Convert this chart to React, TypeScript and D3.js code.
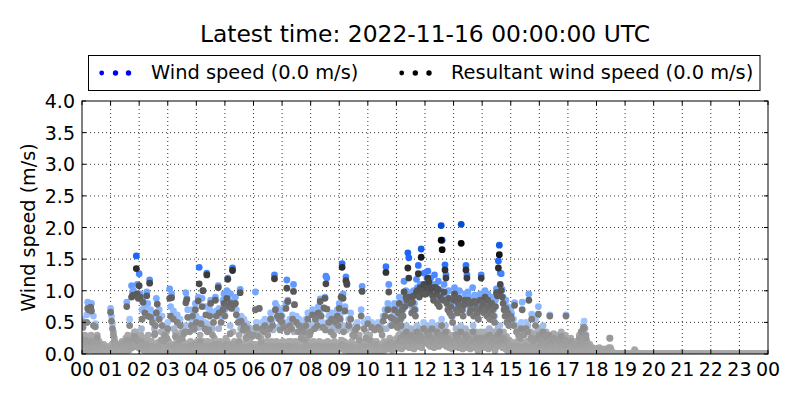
import { useMemo } from 'react';
import * as d3 from 'd3';

const title = 'Latest time: 2022-11-16 00:00:00 UTC';
const windLabel = 'Wind speed (0.0 m/s)';
const resultantLabel = 'Resultant wind speed (0.0 m/s)';
const yLabel = 'Wind speed (m/s)';

const hourLabels = [
  '00', '01', '02', '03', '04', '05', '06', '07', '08', '09', '10', '11',
  '12', '13', '14', '15', '16', '17', '18', '19', '20', '21', '22', '23', '00',
];
const speedTicks = [0, 0.5, 1, 1.5, 2, 2.5, 3, 3.5, 4];
const samplesPerHour = 30; // per table: one reading every 2 minutes

// even-minute readings (:00, :02, ...), one row per hour
const windSpeedEven: number[][] = [
  [0.55, 0.5, 0.2, 0.3, 0.12, 0.62, 0.82, 0.78, 0.15, 0.76, 0.8, 0.25, 0.6, 0.1, 0.48, 0.2, 0.3, 0.08, 0.2, 0.15, 0.12, 0.1, 0.08, 0.15, 0.1, 0.05, 0.08, 0.12, 0.06, 0.04],
  [0.72, 0.6, 0.48, 0.35, 0.25, 0.18, 0.12, 0.1, 0.15, 0.08, 0.05, 0.1, 0.2, 0.12, 0.08, 0.18, 0.25, 0.82, 0.3, 0.2, 0.55, 0.15, 1.08, 0.98, 1.0, 0.35, 0.2, 1.55, 1.1, 0.95],
  [1.27, 0.95, 0.3, 0.7, 0.9, 0.2, 0.75, 0.25, 0.98, 0.8, 0.15, 1.17, 0.7, 0.2, 0.62, 0.12, 0.4, 0.58, 0.88, 0.66, 0.18, 0.7, 0.1, 0.35, 0.6, 0.15, 0.3, 0.42, 0.08, 0.35],
  [0.5, 0.2, 1.03, 0.75, 0.95, 0.15, 0.68, 0.1, 0.35, 0.25, 0.62, 0.12, 0.3, 0.55, 0.08, 0.35, 0.2, 0.42, 0.15, 0.97, 0.88, 0.7, 0.12, 0.45, 0.2, 0.55, 0.7, 0.15, 0.5, 0.8],
  [0.6, 0.2, 0.9, 1.37, 0.3, 0.55, 0.88, 1.0, 0.15, 0.5, 0.75, 1.28, 0.2, 0.45, 0.7, 0.85, 0.12, 0.4, 0.62, 0.25, 0.9, 0.68, 0.15, 1.08, 0.72, 0.2, 0.6, 0.1, 0.85, 0.95],
  [0.7, 0.25, 1.0, 1.2, 0.85, 0.15, 0.95, 0.8, 1.36, 0.84, 0.2, 0.9, 0.7, 0.12, 0.6, 0.3, 1.02, 0.6, 0.15, 0.45, 0.55, 0.1, 0.35, 0.48, 0.08, 0.42, 0.2, 0.38, 0.1, 0.35],
  [0.4, 0.15, 0.98, 0.5, 0.1, 0.35, 0.72, 0.12, 0.25, 0.5, 0.08, 0.45, 0.55, 0.15, 0.2, 0.4, 0.1, 0.5, 0.65, 0.2, 0.55, 0.12, 1.25, 0.8, 0.2, 0.74, 0.15, 0.62, 0.45, 0.7],
  [0.6, 0.2, 0.5, 0.15, 0.8, 1.17, 0.85, 0.2, 0.55, 0.12, 0.5, 0.62, 1.1, 0.78, 0.2, 0.6, 0.1, 0.45, 0.55, 0.15, 0.35, 0.5, 0.1, 0.45, 0.3, 0.55, 0.15, 0.65, 0.2, 0.4],
  [0.45, 0.15, 0.7, 0.2, 0.5, 0.65, 0.1, 0.55, 0.75, 0.2, 0.87, 0.7, 0.15, 0.5, 0.72, 0.9, 1.23, 1.2, 0.2, 0.6, 0.12, 0.45, 0.65, 0.15, 0.4, 0.2, 0.6, 0.1, 0.7, 0.55],
  [0.8, 0.62, 0.9, 1.43, 0.95, 0.2, 0.75, 1.22, 1.12, 0.15, 0.55, 0.12, 0.65, 0.2, 0.4, 0.1, 0.35, 0.45, 0.15, 0.5, 0.1, 0.3, 0.2, 0.7, 1.07, 0.15, 0.5, 0.1, 0.35, 0.2],
  [0.55, 0.15, 0.3, 0.1, 0.5, 0.2, 0.08, 0.45, 0.12, 0.2, 0.05, 0.5, 0.15, 0.45, 0.1, 0.4, 0.6, 0.2, 0.7, 1.38, 0.15, 0.8, 1.1, 0.25, 0.72, 0.55, 0.15, 0.65, 0.8, 0.2],
  [0.6, 0.5, 0.75, 0.9, 0.65, 0.55, 0.8, 0.7, 1.15, 0.85, 1.0, 0.95, 1.6, 1.52, 0.97, 0.85, 0.75, 0.9, 1.0, 0.8, 0.7, 1.18, 1.05, 1.4, 0.95, 1.1, 1.66, 1.05, 1.0, 1.28],
  [1.1, 1.0, 1.2, 1.31, 1.15, 1.05, 1.2, 1.1, 1.0, 0.95, 1.25, 1.1, 1.05, 0.9, 1.15, 0.85, 1.0, 2.03, 1.8, 0.95, 1.1, 1.41, 1.25, 0.9, 0.8, 1.0, 0.75, 0.85, 0.7, 0.6],
  [0.9, 1.05, 0.95, 0.8, 0.75, 0.9, 1.0, 0.85, 2.05, 0.8, 0.7, 0.85, 0.95, 1.4, 1.25, 0.98, 0.9, 0.75, 0.8, 0.85, 1.05, 0.7, 0.93, 0.9, 0.8, 0.75, 0.65, 0.8, 0.95, 1.25],
  [0.85, 0.9, 0.75, 1.0, 0.8, 0.7, 0.95, 0.85, 0.65, 0.75, 0.9, 0.8, 0.7, 0.6, 0.85, 1.03, 0.95, 1.47, 1.72, 1.28, 1.27, 1.02, 0.9, 0.8, 0.7, 0.85, 0.6, 0.75, 0.55, 0.65],
  [0.7, 0.64, 0.15, 0.55, 0.81, 0.12, 0.45, 0.2, 0.4, 0.1, 0.35, 0.5, 0.82, 0.15, 0.4, 0.08, 0.5, 0.2, 0.45, 0.95, 0.1, 0.35, 0.63, 0.15, 0.3, 0.08, 0.55, 0.2, 0.35, 0.75],
  [0.4, 0.35, 0.3, 0.25, 0.45, 0.3, 0.2, 0.35, 0.15, 0.25, 0.3, 0.62, 0.2, 0.3, 0.15, 0.32, 0.25, 0.1, 0.2, 0.15, 0.3, 0.12, 0.25, 0.35, 0.18, 0.1, 0.2, 0.3, 0.62, 0.25],
  [0.2, 0.15, 0.1, 0.25, 0.12, 0.08, 0.15, 0.2, 0.1, 0.05, 0.12, 0.18, 0.3, 0.22, 0.35, 0.15, 0.45, 0.52, 0.4, 0.3, 0.2, 0.12, 0.1, 0.15, 0.08, 0.05, 0.1, 0.06, 0.04, 0.08],
  [0.05, 0.08, 0.03, 0.1, 0.05, 0.02, 0.06, 0.04, 0.08, 0.03, 0.02, 0.05, 0.03, 0.1, 0.25, 0.08, 0.04, 0.02, 0, 0.01, 0, 0, 0, 0, 0, 0, 0, 0, 0, 0],
  [0, 0, 0, 0, 0, 0, 0, 0, 0, 0, 0.07, 0.04, 0, 0, 0, 0, 0, 0, 0, 0, 0, 0, 0, 0, 0, 0, 0, 0, 0, 0],
  [0, 0, 0, 0, 0, 0, 0, 0, 0, 0, 0.01, 0, 0, 0, 0, 0, 0, 0, 0, 0, 0, 0, 0, 0, 0, 0, 0, 0, 0, 0],
  [0.02, 0, 0, 0, 0, 0, 0, 0, 0, 0, 0, 0, 0, 0, 0, 0, 0, 0, 0, 0, 0, 0, 0, 0, 0, 0, 0, 0, 0, 0],
  [0, 0, 0, 0, 0, 0, 0, 0, 0, 0, 0, 0, 0, 0, 0, 0, 0, 0, 0, 0, 0, 0, 0, 0, 0, 0, 0, 0, 0, 0],
  [0, 0, 0, 0, 0, 0, 0, 0, 0, 0, 0, 0, 0, 0, 0, 0, 0, 0, 0, 0, 0, 0, 0, 0, 0, 0, 0, 0, 0, 0],
];

// odd-minute readings (:01, :03, ...), hours 00-18
const windSpeedOdd: number[][] = [
  [0.15, 0.08, 0.1, 0.05, 0.12, 0.2, 0.25, 0.1, 0.15, 0.3, 0.12, 0.08, 0.15, 0.1, 0.05, 0.12, 0.06, 0.04, 0.08, 0.03, 0.05, 0.02, 0.03, 0.02, 0.04, 0.01, 0.03, 0.05, 0.02, 0.03],
  [0.1, 0.15, 0.08, 0.05, 0.03, 0.04, 0.02, 0.01, 0.03, 0.02, 0.01, 0.02, 0.05, 0.03, 0.02, 0.04, 0.08, 0.15, 0.12, 0.1, 0.2, 0.25, 0.15, 0.3, 0.22, 0.18, 0.35, 0.2, 0.3, 0.15],
  [0.2, 0.12, 0.4, 0.15, 0.1, 0.22, 0.08, 0.18, 0.12, 0.3, 0.15, 0.1, 0.2, 0.08, 0.12, 0.05, 0.45, 0.1, 0.06, 0.18, 0.03, 0.1, 0.08, 0.04, 0.35, 0.06, 0.1, 0.03, 0.08, 0.05],
  [0.08, 0.15, 0.05, 0.12, 0.1, 0.03, 0.4, 0.08, 0.05, 0.1, 0.15, 0.04, 0.08, 0.12, 0.05, 0.1, 0.03, 0.15, 0.45, 0.08, 0.12, 0.05, 0.18, 0.1, 0.06, 0.15, 0.08, 0.38, 0.12, 0.1],
  [0.15, 0.1, 0.42, 0.08, 0.18, 0.12, 0.05, 0.2, 0.1, 0.15, 0.08, 0.48, 0.12, 0.05, 0.18, 0.1, 0.15, 0.08, 0.2, 0.12, 0.05, 0.15, 0.1, 0.4, 0.08, 0.18, 0.12, 0.05, 0.15, 0.1],
  [0.18, 0.12, 0.2, 0.1, 0.15, 0.45, 0.08, 0.15, 0.35, 0.1, 0.18, 0.12, 0.05, 0.15, 0.1, 0.08, 0.4, 0.05, 0.12, 0.08, 0.15, 0.03, 0.1, 0.06, 0.12, 0.04, 0.08, 0.15, 0.05, 0.1],
  [0.05, 0.1, 0.15, 0.08, 0.03, 0.12, 0.05, 0.1, 0.04, 0.08, 0.15, 0.03, 0.1, 0.05, 0.12, 0.08, 0.04, 0.15, 0.1, 0.05, 0.38, 0.08, 0.42, 0.12, 0.15, 0.1, 0.05, 0.18, 0.08, 0.12],
  [0.15, 0.1, 0.05, 0.18, 0.12, 0.45, 0.15, 0.08, 0.1, 0.2, 0.05, 0.12, 0.35, 0.1, 0.15, 0.08, 0.05, 0.12, 0.1, 0.03, 0.08, 0.15, 0.05, 0.1, 0.04, 0.12, 0.4, 0.08, 0.1, 0.05],
  [0.1, 0.05, 0.15, 0.12, 0.08, 0.18, 0.1, 0.05, 0.42, 0.12, 0.15, 0.08, 0.1, 0.18, 0.05, 0.45, 0.15, 0.1, 0.12, 0.08, 0.15, 0.05, 0.1, 0.18, 0.08, 0.12, 0.05, 0.15, 0.1, 0.38],
  [0.18, 0.12, 0.22, 0.15, 0.45, 0.1, 0.18, 0.38, 0.12, 0.08, 0.15, 0.1, 0.05, 0.12, 0.08, 0.15, 0.05, 0.1, 0.12, 0.08, 0.03, 0.1, 0.15, 0.08, 0.18, 0.1, 0.05, 0.12, 0.08, 0.1],
  [0.08, 0.1, 0.05, 0.03, 0.1, 0.08, 0.04, 0.12, 0.05, 0.03, 0.08, 0.15, 0.05, 0.1, 0.12, 0.08, 0.15, 0.1, 0.18, 0.4, 0.12, 0.2, 0.15, 0.45, 0.18, 0.1, 0.22, 0.15, 0.2, 0.12],
  [0.25, 0.15, 0.3, 0.2, 0.35, 0.12, 0.28, 0.4, 0.2, 0.3, 0.45, 0.22, 0.35, 0.15, 0.28, 0.4, 0.2, 0.3, 0.12, 0.35, 0.22, 0.45, 0.28, 0.2, 0.4, 0.3, 0.15, 0.35, 0.5, 0.28],
  [0.35, 0.28, 0.45, 0.22, 0.4, 0.2, 0.3, 0.5, 0.28, 0.15, 0.35, 0.22, 0.45, 0.3, 0.2, 0.4, 0.28, 0.55, 0.35, 0.22, 0.3, 0.45, 0.2, 0.35, 0.28, 0.15, 0.3, 0.22, 0.12, 0.28],
  [0.3, 0.22, 0.4, 0.2, 0.35, 0.15, 0.28, 0.45, 0.22, 0.12, 0.3, 0.2, 0.4, 0.28, 0.15, 0.35, 0.22, 0.12, 0.3, 0.2, 0.45, 0.28, 0.15, 0.35, 0.22, 0.08, 0.28, 0.2, 0.35, 0.22],
  [0.28, 0.2, 0.35, 0.15, 0.3, 0.22, 0.12, 0.4, 0.2, 0.28, 0.15, 0.35, 0.22, 0.08, 0.3, 0.2, 0.4, 0.28, 0.45, 0.22, 0.3, 0.15, 0.35, 0.2, 0.12, 0.28, 0.08, 0.22, 0.15, 0.2],
  [0.15, 0.1, 0.18, 0.08, 0.12, 0.05, 0.15, 0.1, 0.03, 0.12, 0.08, 0.15, 0.05, 0.1, 0.18, 0.08, 0.03, 0.12, 0.1, 0.05, 0.15, 0.08, 0.1, 0.04, 0.12, 0.06, 0.15, 0.08, 0.05, 0.1],
  [0.1, 0.2, 0.05, 0.15, 0.08, 0.25, 0.12, 0.05, 0.2, 0.1, 0.03, 0.15, 0.08, 0.2, 0.05, 0.12, 0.1, 0.04, 0.15, 0.06, 0.1, 0.02, 0.08, 0.15, 0.05, 0.03, 0.1, 0.06, 0.2, 0.08],
  [0.05, 0.1, 0.03, 0.08, 0.04, 0.02, 0.06, 0.1, 0.03, 0.02, 0.05, 0.08, 0.12, 0.06, 0.15, 0.08, 0.2, 0.1, 0.15, 0.08, 0.05, 0.03, 0.06, 0.02, 0.04, 0.01, 0.03, 0.02, 0.01, 0.02],
  [0.02, 0.04, 0.01, 0.05, 0.02, 0.01, 0.03, 0.02, 0.04, 0.01, 0.01, 0.02, 0.01, 0.05, 0.1, 0.03, 0.02, 0, 0, 0, 0, 0, 0, 0, 0, 0, 0, 0, 0, 0],
];

const resultantSpeedEven: number[][] = [
  [0.5, 0.42, 0.12, 0.22, 0.08, 0.5, 0.72, 0.7, 0.1, 0.74, 0.68, 0.18, 0.45, 0.05, 0.43, 0.12, 0.26, 0.05, 0.15, 0.1, 0.08, 0.06, 0.05, 0.1, 0.07, 0.03, 0.05, 0.08, 0.04, 0.02],
  [0.66, 0.52, 0.4, 0.3, 0.2, 0.15, 0.1, 0.06, 0.12, 0.05, 0.03, 0.06, 0.16, 0.1, 0.05, 0.14, 0.2, 0.75, 0.22, 0.12, 0.45, 0.1, 0.9, 0.92, 0.93, 0.28, 0.12, 1.35, 0.95, 0.88],
  [1.08, 0.9, 0.2, 0.55, 0.82, 0.12, 0.65, 0.15, 0.92, 0.6, 0.08, 1.12, 0.58, 0.12, 0.5, 0.06, 0.3, 0.45, 0.65, 0.79, 0.1, 0.55, 0.05, 0.22, 0.45, 0.08, 0.2, 0.3, 0.04, 0.25],
  [0.4, 0.12, 0.88, 0.6, 0.89, 0.08, 0.55, 0.05, 0.28, 0.15, 0.5, 0.06, 0.22, 0.45, 0.04, 0.25, 0.12, 0.32, 0.08, 0.81, 0.86, 0.58, 0.06, 0.35, 0.12, 0.45, 0.6, 0.08, 0.4, 0.7],
  [0.5, 0.12, 0.84, 1.11, 0.2, 0.48, 0.75, 1.0, 0.08, 0.4, 0.62, 1.25, 0.12, 0.38, 0.6, 0.8, 0.06, 0.3, 0.5, 0.15, 0.85, 0.6, 0.08, 1.05, 0.65, 0.12, 0.5, 0.05, 0.7, 0.8],
  [0.6, 0.15, 0.88, 1.18, 0.75, 0.08, 0.8, 0.72, 1.32, 0.78, 0.12, 0.8, 0.62, 0.06, 0.5, 0.2, 0.97, 0.52, 0.08, 0.38, 0.45, 0.05, 0.25, 0.4, 0.04, 0.32, 0.12, 0.3, 0.05, 0.28],
  [0.3, 0.08, 0.7, 0.42, 0.05, 0.28, 0.72, 0.06, 0.18, 0.4, 0.04, 0.35, 0.45, 0.08, 0.12, 0.3, 0.05, 0.4, 0.55, 0.12, 0.45, 0.06, 1.19, 0.7, 0.12, 0.6, 0.08, 0.55, 0.38, 0.6],
  [0.5, 0.12, 0.42, 0.08, 0.72, 1.04, 0.83, 0.12, 0.45, 0.06, 0.4, 0.55, 0.99, 0.78, 0.12, 0.5, 0.05, 0.35, 0.45, 0.08, 0.25, 0.4, 0.05, 0.35, 0.22, 0.45, 0.08, 0.55, 0.12, 0.3],
  [0.35, 0.08, 0.62, 0.12, 0.4, 0.55, 0.05, 0.45, 0.65, 0.12, 0.83, 0.6, 0.08, 0.42, 0.73, 0.88, 1.11, 0.71, 0.12, 0.5, 0.06, 0.35, 0.55, 0.08, 0.3, 0.12, 0.5, 0.05, 0.6, 0.45],
  [0.72, 0.55, 0.9, 1.37, 0.88, 0.12, 0.68, 1.16, 1.1, 0.08, 0.45, 0.06, 0.55, 0.12, 0.3, 0.05, 0.28, 0.38, 0.08, 0.42, 0.05, 0.22, 0.12, 0.6, 0.99, 0.08, 0.4, 0.05, 0.25, 0.12],
  [0.48, 0.08, 0.22, 0.05, 0.42, 0.12, 0.04, 0.38, 0.06, 0.15, 0.02, 0.42, 0.08, 0.38, 0.05, 0.3, 0.52, 0.12, 0.6, 1.29, 0.08, 0.7, 0.98, 0.15, 0.58, 0.45, 0.08, 0.55, 0.7, 0.12],
  [0.5, 0.42, 0.65, 0.8, 0.55, 0.45, 0.7, 0.6, 0.98, 0.75, 0.9, 0.85, 1.36, 1.2, 0.9, 0.8, 0.65, 0.82, 0.92, 0.7, 0.6, 0.98, 1.0, 1.27, 0.9, 1.05, 1.53, 1.0, 0.95, 1.1],
  [1.0, 0.95, 1.05, 1.2, 1.14, 0.98, 1.03, 1.05, 0.92, 0.85, 1.05, 1.05, 0.95, 0.8, 1.02, 0.75, 0.9, 1.8, 1.65, 0.85, 0.98, 1.33, 1.2, 0.8, 0.7, 0.88, 0.65, 0.75, 0.6, 0.5],
  [0.85, 0.95, 0.88, 0.7, 0.65, 0.8, 0.88, 0.75, 1.75, 0.7, 0.6, 0.78, 0.85, 1.33, 1.2, 0.85, 0.8, 0.65, 0.7, 0.8, 0.82, 0.6, 0.83, 0.8, 0.7, 0.65, 0.55, 0.7, 0.85, 1.2],
  [0.75, 0.8, 0.65, 0.9, 0.7, 0.6, 0.85, 0.75, 0.55, 0.65, 0.8, 0.7, 0.6, 0.5, 0.75, 0.97, 0.92, 1.36, 1.57, 1.1, 1.0, 0.9, 0.8, 0.7, 0.6, 0.72, 0.5, 0.65, 0.45, 0.55],
  [0.6, 0.55, 0.08, 0.45, 0.77, 0.06, 0.35, 0.12, 0.3, 0.05, 0.25, 0.4, 0.7, 0.08, 0.3, 0.04, 0.4, 0.12, 0.35, 0.85, 0.05, 0.25, 0.55, 0.08, 0.2, 0.04, 0.45, 0.12, 0.25, 0.63],
  [0.3, 0.28, 0.22, 0.18, 0.35, 0.22, 0.12, 0.28, 0.1, 0.18, 0.3, 0.6, 0.14, 0.22, 0.1, 0.25, 0.18, 0.06, 0.14, 0.1, 0.22, 0.08, 0.18, 0.28, 0.12, 0.05, 0.14, 0.22, 0.6, 0.18],
  [0.15, 0.1, 0.06, 0.2, 0.08, 0.05, 0.1, 0.15, 0.06, 0.03, 0.08, 0.12, 0.25, 0.18, 0.35, 0.1, 0.4, 0.42, 0.3, 0.25, 0.15, 0.08, 0.06, 0.1, 0.05, 0.02, 0.06, 0.04, 0.02, 0.05],
  [0.03, 0.05, 0.02, 0.06, 0.03, 0.01, 0.04, 0.02, 0.05, 0.02, 0.01, 0.03, 0.02, 0.08, 0.25, 0.06, 0.02, 0.01, 0, 0, 0, 0, 0, 0, 0, 0, 0, 0, 0, 0],
  [0, 0, 0, 0, 0, 0, 0, 0, 0, 0, 0.05, 0, 0, 0, 0, 0, 0, 0, 0, 0, 0, 0, 0, 0, 0, 0, 0, 0, 0, 0],
  [0, 0, 0, 0, 0, 0, 0, 0, 0, 0, 0, 0, 0, 0, 0, 0, 0, 0, 0, 0, 0, 0, 0, 0, 0, 0, 0, 0, 0, 0],
  [0.01, 0, 0, 0, 0, 0, 0, 0, 0, 0, 0, 0, 0, 0, 0, 0, 0, 0, 0, 0, 0, 0, 0, 0, 0, 0, 0, 0, 0, 0],
  [0, 0, 0, 0, 0, 0, 0, 0, 0, 0, 0, 0, 0, 0, 0, 0, 0, 0, 0, 0, 0, 0, 0, 0, 0, 0, 0, 0, 0, 0],
  [0, 0, 0, 0, 0, 0, 0, 0, 0, 0, 0, 0, 0, 0, 0, 0, 0, 0, 0, 0, 0, 0, 0, 0, 0, 0, 0, 0, 0, 0],
];

const resultantSpeedOdd: number[][] = [
  [0.1, 0.05, 0.06, 0.03, 0.08, 0.12, 0.15, 0.06, 0.1, 0.2, 0.08, 0.05, 0.1, 0.06, 0.03, 0.08, 0.04, 0.02, 0.05, 0.02, 0.03, 0.01, 0.02, 0.01, 0.02, 0.01, 0.02, 0.03, 0.01, 0.02],
  [0.06, 0.1, 0.05, 0.03, 0.02, 0.02, 0.01, 0.01, 0.02, 0.01, 0.01, 0.01, 0.03, 0.02, 0.01, 0.02, 0.05, 0.1, 0.08, 0.06, 0.12, 0.15, 0.1, 0.2, 0.15, 0.12, 0.25, 0.12, 0.2, 0.1],
  [0.12, 0.08, 0.15, 0.1, 0.06, 0.15, 0.05, 0.12, 0.08, 0.03, 0.1, 0.06, 0.12, 0.05, 0.08, 0.03, 0.32, 0.06, 0.04, 0.12, 0.02, 0.06, 0.05, 0.02, 0.08, 0.04, 0.06, 0.02, 0.05, 0.03],
  [0.05, 0.1, 0.03, 0.08, 0.06, 0.02, 0.12, 0.05, 0.03, 0.06, 0.1, 0.02, 0.05, 0.08, 0.03, 0.06, 0.02, 0.1, 0.35, 0.05, 0.08, 0.03, 0.12, 0.06, 0.04, 0.1, 0.05, 0.15, 0.08, 0.06],
  [0.1, 0.06, 0.15, 0.05, 0.12, 0.08, 0.03, 0.12, 0.06, 0.1, 0.05, 0.35, 0.08, 0.03, 0.12, 0.06, 0.1, 0.05, 0.12, 0.08, 0.03, 0.1, 0.06, 0.15, 0.05, 0.12, 0.08, 0.03, 0.1, 0.06],
  [0.12, 0.08, 0.12, 0.06, 0.1, 0.32, 0.05, 0.1, 0.15, 0.06, 0.12, 0.08, 0.03, 0.1, 0.06, 0.05, 0.12, 0.03, 0.08, 0.05, 0.1, 0.02, 0.06, 0.04, 0.08, 0.02, 0.05, 0.1, 0.03, 0.06],
  [0.03, 0.06, 0.1, 0.05, 0.02, 0.08, 0.03, 0.06, 0.02, 0.05, 0.1, 0.02, 0.06, 0.03, 0.08, 0.05, 0.02, 0.1, 0.06, 0.03, 0.12, 0.05, 0.12, 0.08, 0.1, 0.06, 0.03, 0.12, 0.05, 0.08],
  [0.1, 0.06, 0.03, 0.12, 0.08, 0.35, 0.1, 0.05, 0.06, 0.12, 0.03, 0.08, 0.12, 0.06, 0.1, 0.05, 0.03, 0.08, 0.06, 0.02, 0.05, 0.1, 0.03, 0.06, 0.02, 0.08, 0.12, 0.05, 0.06, 0.03],
  [0.06, 0.03, 0.1, 0.08, 0.05, 0.12, 0.06, 0.03, 0.12, 0.08, 0.1, 0.05, 0.06, 0.12, 0.03, 0.38, 0.1, 0.06, 0.08, 0.05, 0.1, 0.03, 0.06, 0.12, 0.05, 0.08, 0.03, 0.1, 0.06, 0.12],
  [0.12, 0.08, 0.15, 0.1, 0.35, 0.06, 0.12, 0.12, 0.08, 0.05, 0.1, 0.06, 0.03, 0.08, 0.05, 0.1, 0.03, 0.06, 0.08, 0.05, 0.02, 0.06, 0.1, 0.05, 0.12, 0.06, 0.03, 0.08, 0.05, 0.06],
  [0.05, 0.06, 0.03, 0.02, 0.06, 0.05, 0.02, 0.08, 0.03, 0.02, 0.05, 0.1, 0.03, 0.06, 0.08, 0.05, 0.1, 0.06, 0.12, 0.15, 0.08, 0.12, 0.1, 0.18, 0.12, 0.06, 0.15, 0.1, 0.12, 0.08],
  [0.15, 0.1, 0.2, 0.12, 0.25, 0.08, 0.2, 0.3, 0.12, 0.2, 0.35, 0.15, 0.25, 0.1, 0.2, 0.3, 0.12, 0.2, 0.08, 0.25, 0.15, 0.35, 0.2, 0.12, 0.3, 0.2, 0.1, 0.25, 0.4, 0.2],
  [0.25, 0.2, 0.35, 0.15, 0.3, 0.12, 0.2, 0.4, 0.2, 0.1, 0.25, 0.15, 0.35, 0.2, 0.12, 0.3, 0.2, 0.45, 0.25, 0.15, 0.2, 0.35, 0.12, 0.25, 0.2, 0.1, 0.2, 0.15, 0.08, 0.2],
  [0.2, 0.15, 0.3, 0.12, 0.25, 0.1, 0.2, 0.35, 0.15, 0.08, 0.2, 0.12, 0.3, 0.2, 0.1, 0.25, 0.15, 0.08, 0.2, 0.12, 0.35, 0.2, 0.1, 0.25, 0.15, 0.05, 0.2, 0.12, 0.25, 0.15],
  [0.2, 0.12, 0.25, 0.1, 0.2, 0.15, 0.08, 0.3, 0.12, 0.2, 0.1, 0.25, 0.15, 0.05, 0.2, 0.12, 0.3, 0.2, 0.35, 0.15, 0.2, 0.1, 0.25, 0.12, 0.08, 0.2, 0.05, 0.15, 0.1, 0.12],
  [0.1, 0.06, 0.12, 0.05, 0.08, 0.03, 0.1, 0.06, 0.02, 0.08, 0.05, 0.1, 0.03, 0.06, 0.12, 0.05, 0.02, 0.08, 0.06, 0.03, 0.1, 0.05, 0.06, 0.02, 0.08, 0.04, 0.1, 0.05, 0.03, 0.06],
  [0.05, 0.12, 0.02, 0.08, 0.04, 0.15, 0.06, 0.02, 0.12, 0.05, 0.01, 0.08, 0.04, 0.12, 0.02, 0.06, 0.05, 0.02, 0.08, 0.03, 0.05, 0.01, 0.04, 0.08, 0.02, 0.01, 0.05, 0.03, 0.12, 0.04],
  [0.02, 0.05, 0.01, 0.04, 0.02, 0.01, 0.03, 0.05, 0.01, 0.01, 0.02, 0.04, 0.06, 0.03, 0.08, 0.04, 0.12, 0.05, 0.08, 0.04, 0.02, 0.01, 0.03, 0.01, 0.02, 0, 0.01, 0.01, 0, 0.01],
  [0.01, 0.02, 0, 0.03, 0.01, 0, 0.02, 0.01, 0.02, 0, 0, 0.01, 0, 0.03, 0.06, 0.02, 0.01, 0, 0, 0, 0, 0, 0, 0, 0, 0, 0, 0, 0, 0],
];

const font = 'DejaVu Sans, Verdana, sans-serif';
const margin = { top: 101, right: 32, bottom: 46, left: 82 };
const width = 800;
const height = 400;
const pointRadius = 3.4;

interface Point {
  hour: number;
  speed: number;
}

// offset is in minutes past the hour of the first reading of a table
const toPoints = (rows: number[][], offset: number): Point[] =>
  rows.flatMap((row, h) =>
    row.map((speed, i) => ({ hour: h + (i * 2 + offset) / (samplesPerHour * 2), speed })),
  );

const App = () => {
  const innerW = width - margin.left - margin.right;
  const innerH = height - margin.top - margin.bottom;

  const x = d3.scaleLinear().domain([0, 24]).range([0, innerW]);
  const y = d3.scaleLinear().domain([0, 4]).range([innerH, 0]);

  // colour darkens / saturates with speed; calm readings stay grey
  const windColor = d3
    .scaleLinear<string>()
    .domain([0, 0.32, 0.5, 1.0, 1.5, 2.1])
    .range(['#a8a8a8', '#a8a8a8', '#a4c6ff', '#70a4ff', '#2068ff', '#0048d0'])
    .clamp(true);
  const resultantColor = d3
    .scaleLinear<string>()
    .domain([0, 0.3, 1.0, 1.75])
    .range(['#a8a8a8', '#969696', '#555555', '#000000'])
    .clamp(true);

  const windPoints = useMemo(
    () => [...toPoints(windSpeedEven, 0), ...toPoints(windSpeedOdd, 1)].sort((a, b) => a.hour - b.hour),
    [],
  );
  const resultantPoints = useMemo(
    () => [...toPoints(resultantSpeedEven, 0), ...toPoints(resultantSpeedOdd, 1)].sort((a, b) => a.hour - b.hour),
    [],
  );

  const hourTicks = hourLabels.map((_, i) => i);

  return (
    <svg
      width={width}
      height={height}
      style={{ position: 'absolute', left: 0, top: 0, background: '#fff' }}
      fontFamily={font}
    >
      <text x={margin.left + innerW / 2} y={42} textAnchor="middle" fontSize={23.4}>
        {title}
      </text>

      {/* legend */}
      <g>
        <rect x={88.5} y={55.5} width={671.5} height={35} fill="#fff" stroke="#000" strokeWidth={1} />
        {[101.7, 115.5, 128.5].map((cx, i) => (
          <circle key={`lw${i}`} cx={cx} cy={73} r={i === 0 ? 2.4 : 2.7} fill="#0000ff" />
        ))}
        <text x={151} y={79} fontSize={19.4}>{windLabel}</text>
        {[401.7, 415.3, 429].map((cx, i) => (
          <circle key={`lr${i}`} cx={cx} cy={73} r={i === 0 ? 2.4 : 2.7} fill="#000" />
        ))}
        <text x={451} y={79} fontSize={19.4}>{resultantLabel}</text>
      </g>

      <defs>
        <clipPath id="plot-clip">
          <rect x={0} y={0} width={innerW} height={innerH} />
        </clipPath>
      </defs>

      <g transform={`translate(${margin.left},${margin.top})`}>
        {/* grid */}
        {hourTicks.slice(1, -1).map(h => (
          <line key={`gx${h}`} x1={x(h)} x2={x(h)} y1={0} y2={innerH}
            stroke="#000" strokeWidth={0.8} strokeDasharray="1,3" />
        ))}
        {speedTicks.slice(1, -1).map(v => (
          <line key={`gy${v}`} x1={0} x2={innerW} y1={y(v)} y2={y(v)}
            stroke="#000" strokeWidth={0.8} strokeDasharray="1,3" />
        ))}

        <g clipPath="url(#plot-clip)">
          {windPoints.map((p, i) => (
            <circle key={`w${i}`} cx={x(p.hour)} cy={y(p.speed)} r={pointRadius} fill={windColor(p.speed)} />
          ))}
          {resultantPoints.map((p, i) => (
            <circle key={`r${i}`} cx={x(p.hour)} cy={y(p.speed)} r={pointRadius} fill={resultantColor(p.speed)} />
          ))}
        </g>

        {/* ticks pointing inward on all sides */}
        {hourTicks.map(h => (
          <g key={`tx${h}`}>
            <line x1={x(h)} x2={x(h)} y1={innerH} y2={innerH - 4} stroke="#000" />
            <line x1={x(h)} x2={x(h)} y1={0} y2={4} stroke="#000" />
            <text x={x(h)} y={innerH + 22} textAnchor="middle" fontSize={19}>{hourLabels[h]}</text>
          </g>
        ))}
        {speedTicks.map(v => (
          <g key={`ty${v}`}>
            <line x1={0} x2={4} y1={y(v)} y2={y(v)} stroke="#000" />
            <line x1={innerW} x2={innerW - 4} y1={y(v)} y2={y(v)} stroke="#000" />
            <text x={-7} y={y(v) + 7} textAnchor="end" fontSize={19}>{v.toFixed(1)}</text>
          </g>
        ))}

        <rect x={0} y={0} width={innerW} height={innerH} fill="none" stroke="#000" strokeWidth={1} />

        <text
          transform={`translate(${35 - margin.left},${innerH / 2}) rotate(-90)`}
          textAnchor="middle"
          fontSize={19.2}
        >
          {yLabel}
        </text>
      </g>
    </svg>
  );
};

export default App;
